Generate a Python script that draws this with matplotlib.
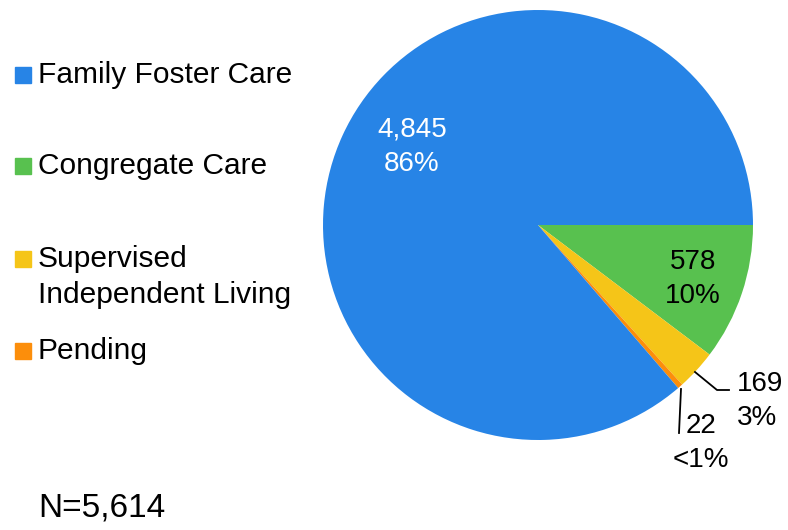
import matplotlib.pyplot as plt
from matplotlib.patches import Rectangle

plt.rcParams['font.family'] = ['Liberation Sans', 'DejaVu Sans']

categorias = ['Family Foster Care', 'Congregate Care', 'Supervised\nIndependent Living', 'Pending']
valores = [4845, 578, 169, 22]
porcentajes = ['86%', '10%', '3%', '<1%']
colores = ['#2784E6', '#58C14F', '#F5C518', '#FC8E0B']
total = 5614

fig = plt.figure(figsize=(7.88, 5.30), dpi=100)
W, H = 788, 530

# pie: centro (538,225), radio 215 px
cx, cy, r = 538, 225, 215
ax = fig.add_axes([(cx - r) / W, (H - cy - r) / H, 2 * r / W, 2 * r / H])

# orden horario desde las 3 en punto: Congregate, Supervised, Pending, Family
orden = [1, 2, 3, 0]
wedges, _ = ax.pie([valores[i] for i in orden], colors=[colores[i] for i in orden],
                   startangle=0, counterclock=False, radius=1,
                   wedgeprops=dict(linewidth=0))
ax.set_xlim(-1, 1)
ax.set_ylim(-1, 1)
ax.axis('off')

def px(x, y):
    # pixeles de la imagen -> coords de datos del pie
    return (x - cx) / r, (cy - y) / r

fs = 20
ls = 1.4
lab = lambda i: f'{valores[i]:,}\n{porcentajes[i]}'

ax.text(*px(412, 147), lab(0), color='white', ha='center', va='center',
        fontsize=fs, linespacing=ls)
ax.text(*px(693, 279), lab(1), color='black', ha='center', va='center',
        fontsize=fs, linespacing=ls)

# etiquetas externas con lineas guia
x0, y0 = px(695, 372); x1, y1 = px(717, 390); x2, y2 = px(729, 390)
ax.plot([x0, x1, x2], [y0, y1, y2], color='black', lw=1.3, clip_on=False)
ax.text(*px(737, 401), lab(2), ha='left', va='center', fontsize=fs,
        linespacing=ls)

x0, y0 = px(681, 389); x1, y1 = px(679, 433)
ax.plot([x0, x1], [y0, y1], color='black', lw=1.3, clip_on=False)
ax.text(*px(701, 443), lab(3), ha='center', va='center', fontsize=fs,
        linespacing=ls)

# leyenda manual
fl = 21.5
filas = [75, 166, 259, 351]
for i, yy in enumerate(filas):
    fig.patches.append(Rectangle((15 / W, (H - yy - 8) / H), 16 / W, 16 / H,
                                 transform=fig.transFigure, color=colores[i]))
    fig.text(38 / W, (H - yy) / H, categorias[i].split('\n')[0], fontsize=fl,
             va='center', ha='left')
    if '\n' in categorias[i]:
        fig.text(38 / W, (H - yy - 36) / H, categorias[i].split('\n')[1],
                 fontsize=fl, va='center', ha='left')

fig.text(38 / W, (H - 508) / H, f'N={total:,}', fontsize=24, va='center', ha='left')

fig.savefig('out.png', dpi=100)
